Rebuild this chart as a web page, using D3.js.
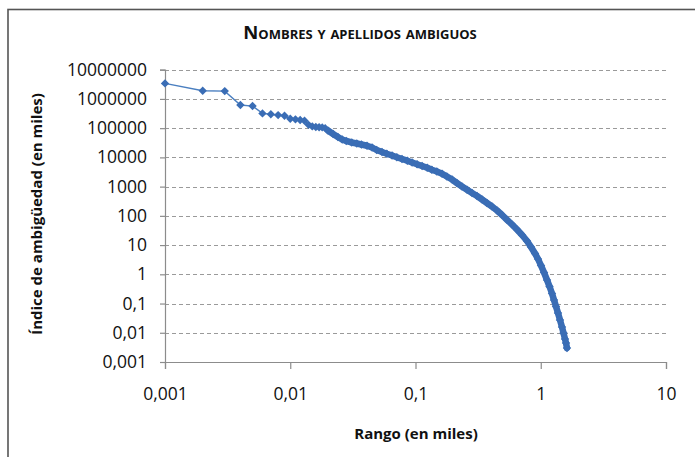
<!DOCTYPE html>
<html><head><meta charset="utf-8">
<script src="https://cdn.jsdelivr.net/npm/d3@7"></script>
<style>html,body{margin:0;padding:0;background:#fff;}svg{display:block;}</style>
</head><body>
<script>
const title = "Nombres y apellidos ambiguos";
const xTitle = "Rango (en miles)";
const yTitle = "Índice de ambigüedad (en miles)";
const xTicks = [0.001, 0.01, 0.1, 1, 10];
const yTicks = [0.001, 0.01, 0.1, 1, 10, 100, 1000, 10000, 100000, 1000000, 10000000];
const rango = [0.001,0.002,0.003,0.004,0.005,0.006,0.007,0.008,0.009,0.010,0.011,0.012,0.013,0.014,0.015,0.016,0.017,0.018,0.019,
  0.020,0.022,0.024,0.026,0.028,0.031,0.034,0.037,0.041,0.045,0.049,0.054,0.059,0.065,0.071,0.078,0.086,0.094,0.103,0.113,
  0.124,0.135,0.148,0.163,0.178,0.196,0.214,0.235,0.258,0.283,0.310,0.340,0.372,0.408,0.448,0.491,0.538,0.590,0.646,0.709,
  0.777,0.836,0.900,0.951,1.005,1.062,1.122,1.175,1.230,1.276,1.324,1.373,1.424,1.478,1.519,1.562,1.591,1.620];
const indice = [3400000,1900000,1850000,620000,570000,320000,300000,280000,265000,210000,200000,190000,180000,130000,115000,110000,108000,106000,100000,
  83000,63000,50000,41000,36400,32300,29900,27600,25100,21800,17900,15300,13300,11600,10100,8810,7710,6690,5800,5070,
  4400,3790,3290,2770,2220,1750,1330,1010,778,605,478,362,275,209,152,107,73.3,50.6,34.1,22.1,
  13.8,8.59,5.15,3.34,2.00,1.15,0.638,0.383,0.220,0.132,0.0792,0.0474,0.0274,0.0157,0.00982,0.00612,0.00447,0.00301];

const W = 695, H = 457;
const svg = d3.select("body").append("svg").attr("width", W).attr("height", H);
const FONT = "'Open Sans', 'Liberation Sans', sans-serif";

// outer frame
svg.append("rect").attr("x", 8).attr("y", 9.5).attr("width", 720).attr("height", 480)
  .attr("fill", "none").attr("stroke", "#555").attr("stroke-width", 1.6);

const x = d3.scaleLog().domain([0.001, 10]).range([165, 666]);
const y = d3.scaleLog().domain([0.001, 1e7]).range([362, 69.7]);
const fmt = v => String(v).replace(".", ",");

// gridlines
svg.append("g").selectAll("line").data(yTicks.slice(1)).join("line")
  .attr("x1", x(0.001)).attr("x2", x(10))
  .attr("y1", d => Math.round(y(d)) + 0.5).attr("y2", d => Math.round(y(d)) + 0.5)
  .attr("stroke", "#9a9a9a").attr("stroke-width", 1).attr("stroke-dasharray", "4,3");

// axes
const yAxis = d3.axisLeft(y).tickValues(yTicks).tickFormat(fmt).tickSize(5).tickPadding(13);
const gy = svg.append("g").attr("transform", `translate(${x(0.001)},0)`).call(yAxis);
const xAxis = d3.axisBottom(x).tickValues(xTicks).tickFormat(fmt).tickSize(7).tickPadding(19);
const gx = svg.append("g").attr("transform", `translate(0,${y(0.001)})`).call(xAxis);
[gx, gy].forEach(g => {
  g.select(".domain").attr("stroke", "#8c8c8c").attr("stroke-width", 1.2);
  g.selectAll(".tick line").attr("stroke", "#8c8c8c").attr("stroke-width", 1.2);
  g.selectAll(".tick text").attr("fill", "#111").style("font-family", FONT).style("font-size", "17.5px");
});

// series
const pts = rango.map((r, i) => [r, indice[i]]);
const line = d3.line().x(d => x(d[0])).y(d => y(d[1]));
svg.append("path").attr("d", line(pts)).attr("fill", "none")
  .attr("stroke", "#4a7fc0").attr("stroke-width", 1.4);
svg.append("path").attr("d", line(pts.filter(d => d[0] >= 0.0195))).attr("fill", "none")
  .attr("stroke", "#3a6db5").attr("stroke-width", 6.5).attr("stroke-linejoin", "round").attr("stroke-linecap", "round");
svg.append("g").selectAll("path").data(pts).join("path")
  .attr("transform", d => `translate(${x(d[0])},${y(d[1])})`)
  .attr("d", "M0,-4.2L4.2,0L0,4.2L-4.2,0Z").attr("fill", "#3a6db5");

// titles
svg.append("text").attr("x", 360).attr("y", 39).attr("text-anchor", "middle")
  .style("font-family", FONT).style("font-size", "18.5px").style("font-weight", "bold")
  .style("font-variant", "small-caps").attr("fill", "#111").text(title);
svg.append("text").attr("x", 416).attr("y", 439).attr("text-anchor", "middle")
  .style("font-family", FONT).style("font-size", "15px").style("font-weight", "bold")
  .attr("fill", "#111").text(xTitle);
svg.append("text").attr("transform", "translate(42,214) rotate(-90)").attr("text-anchor", "middle")
  .style("font-family", FONT).style("font-size", "15px").style("font-weight", "bold")
  .attr("fill", "#111").text(yTitle);
</script>
</body></html>
